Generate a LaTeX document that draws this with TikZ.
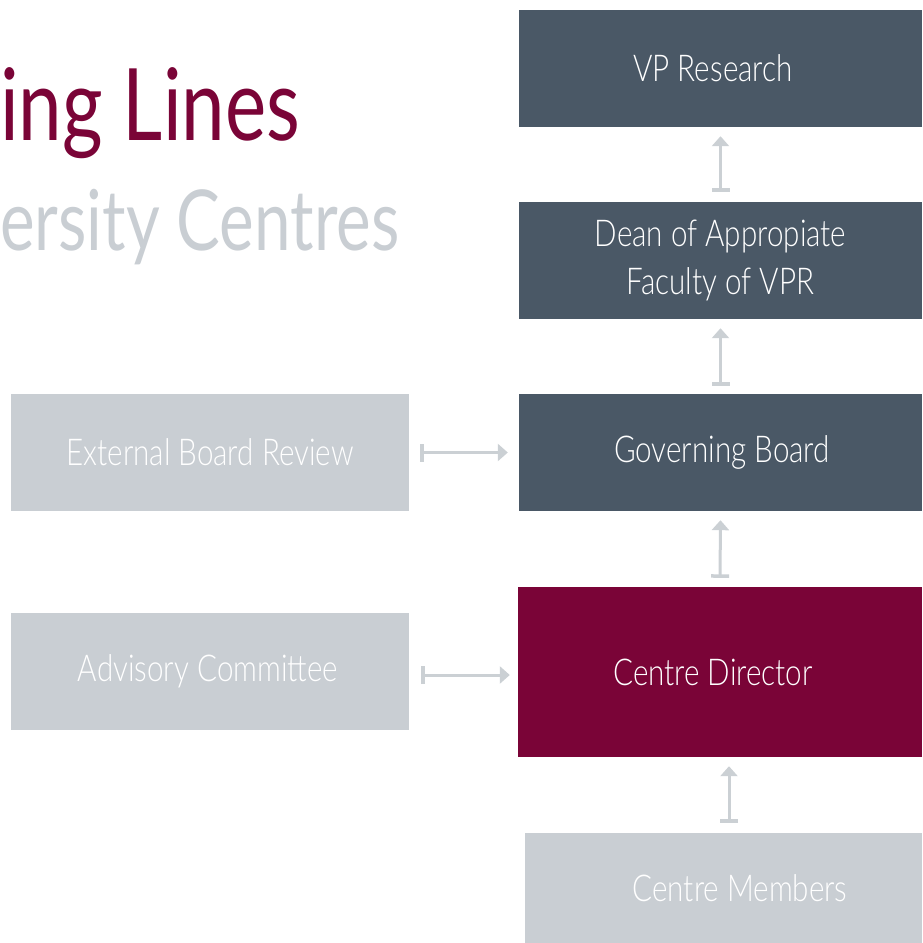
\documentclass[tikz,border=0pt]{standalone}
\usepackage{fontspec}
\setmainfont{Lato}[FakeStretch=0.78]
\newfontfamily\lightfont{Lato Light}[FakeStretch=0.8]
\usetikzlibrary{arrows.meta}
\definecolor{slate}{HTML}{4A5866}
\definecolor{maroon}{HTML}{7A0437}
\definecolor{lgray}{HTML}{C9CED3}
\definecolor{agray}{HTML}{CBD0D4}
\tikzset{
  box/.style={rectangle, inner sep=0pt, minimum width=403pt, minimum height=117pt, text=white, align=center, font=\lightfont\fontsize{37}{48}\selectfont},
  darkbox/.style={box, fill=slate},
  redbox/.style={box, fill=maroon},
  lightbox/.style={box, fill=lgray, minimum width=398pt},
  conn/.style={draw=agray, line width=3pt, {Bar[width=18pt,line width=3.5pt]}-{Triangle[width=17pt,length=10pt]}}
}
\begin{document}
\begin{tikzpicture}[x=1pt,y=-1pt]
\useasboundingbox (0,0) rectangle (922,943);
\node[anchor=base west, inner sep=0pt, text=maroon, font=\fontsize{100}{110}\selectfont] (t1) at (0,140) {ing Lines};
\node[anchor=base west, inner sep=0pt, text=lgray, font=\fontsize{84}{90}\selectfont] (t2) at (0,250) {ersity Centres};
\node[darkbox] (vp) at (720.5,68.5) {\hspace*{-15pt}VP Research};
\node[darkbox] (dean) at (720.5,260.5) {Dean of Appropiate\\Faculty of VPR};
\node[darkbox] (gov) at (720.5,452.5) {\hspace*{3pt}Governing Board};
\node[redbox, minimum width=404pt, minimum height=170pt] (dir) at (720,672) {\hspace*{-14pt}Centre Director};
\node[lightbox, minimum width=397pt, minimum height=110pt] (mem) at (723.5,888) {\hspace*{33pt}Centre Members};
\node[lightbox] (ext) at (210,452.5) {External Board Review};
\node[lightbox] (adv) at (210,671.5) {\hspace*{-4pt}Advisory Committee};
\draw[conn] ([xshift=11pt]ext.east) -- ([xshift=-11pt]gov.west);
\draw[conn] ([xshift=12pt,yshift=-3.5pt]adv.east) -- ([xshift=-8pt,yshift=-3pt]dir.west);
\draw[conn] ([yshift=10pt]dean.north) -- ([yshift=-9pt]vp.south);
\draw[conn] ([yshift=8pt]gov.north) -- ([yshift=-9pt]dean.south);
\draw[conn] ([yshift=9pt]dir.north) -- ([yshift=-9pt]gov.south);
\draw[conn] ([xshift=5.5pt,yshift=10pt]mem.north) -- ([xshift=9pt,yshift=-9pt]dir.south);
\end{tikzpicture}
\end{document}
